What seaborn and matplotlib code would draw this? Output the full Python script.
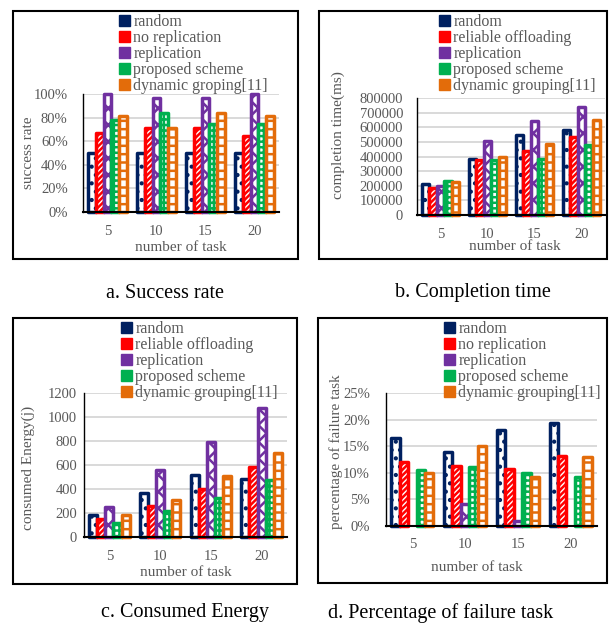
import numpy as np
import pandas as pd
import matplotlib
matplotlib.use("Agg")
import matplotlib.pyplot as plt
from matplotlib.patches import Patch, Rectangle
from matplotlib.ticker import FuncFormatter
import seaborn as sns

tasks = ["5", "10", "15", "20"]

# a. success rate (%)
labels_a = ["random", "no replication", "replication", "proposed scheme", "dynamic groping[11]"]
succ_random = [50, 50, 50, 50]
succ_norepl = [67, 71, 71, 64]
succ_repl = [100, 97, 97, 100]
succ_proposed = [78, 84, 75, 75]
succ_dynamic = [81, 71, 84, 81]

# b. completion time (ms)
labels_b = ["random", "reliable offloading", "replication", "proposed scheme", "dynamic grouping[11]"]
time_random = [215000, 385000, 545000, 580000]
time_reliable = [185000, 375000, 440000, 530000]
time_repl = [195000, 505000, 640000, 740000]
time_proposed = [230000, 375000, 380000, 480000]
time_dynamic = [225000, 400000, 485000, 650000]

# c. consumed energy (j)
labels_c = ["random", "reliable offloading", "replication", "proposed scheme", "dynamic grouping[11]"]
en_random = [180, 365, 515, 485]
en_reliable = [150, 260, 400, 580]
en_repl = [250, 555, 790, 1075]
en_proposed = [115, 220, 325, 478]
en_dynamic = [180, 310, 505, 700]

# d. failure task (%)
labels_d = ["random", "no replication", "replication", "proposed scheme", "dynamic grouping[11]"]
fail_random = [16.5, 14.0, 18.0, 19.3]
fail_norepl = [12.0, 11.3, 10.7, 13.2]
fail_repl = [0.0, 4.1, 1.0, 0.0]
fail_proposed = [10.6, 11.1, 10.0, 9.3]
fail_dynamic = [10.0, 15.0, 9.2, 13.0]

colors = ["#002060", "#FF0000", "#7030A0", "#00B050", "#E36C0A"]
hatches = ["..", "//////", "xx", "+++", "--"]
grey = "#595959"

sns.set_theme(style="white")
plt.rcParams["font.family"] = ["Liberation Serif", "DejaVu Serif"]
plt.rcParams["hatch.linewidth"] = 1.8

W, H = 613, 627
fig = plt.figure(figsize=(W / 100, H / 100), dpi=100)


def rect(x0, x1, ytop, ybot):
    return [x0 / W, 1 - ybot / H, (x1 - x0) / W, (ybot - ytop) / H]


def panel(box, series, labels, ymax, ystep, fmt, ylabel, ypad, ylab_xy, xlab_xy, leg_xy):
    ax = fig.add_axes(rect(*box))
    df = pd.DataFrame({
        "task": np.tile(tasks, len(series)),
        "method": np.repeat(labels, len(tasks)),
        "value": np.concatenate(series),
    })
    sns.barplot(data=df, x="task", y="value", hue="method", palette=colors,
                saturation=1, width=0.8, ax=ax, legend=False, errorbar=None)
    for cont, col, h in zip(ax.containers, colors, hatches):
        for p in cont:
            p.set_facecolor("white")
            p.set_edgecolor(col)
            p.set_hatch(h)
            p.set_linewidth(2.5)
            p.set_joinstyle("round")
            p.set_clip_on(False)
            if p.get_height() == 0:
                p.set_visible(False)
    ax.set_ylim(0, ymax)
    ax.set_xlim(-0.5, 3.5)
    ax.set_yticks(np.arange(0, ymax + ystep / 2, ystep))
    ax.yaxis.set_major_formatter(FuncFormatter(fmt))
    ax.grid(axis="y", color="#D9D9D9", linewidth=1.4)
    ax.set_axisbelow(True)
    for s in ["top", "right"]:
        ax.spines[s].set_visible(False)
    ax.spines["left"].set_color("black")
    ax.spines["left"].set_linewidth(1.0)
    ax.spines["bottom"].set_color("black")
    ax.spines["bottom"].set_linewidth(1.5)
    ax.tick_params(axis="y", length=0, pad=ypad, labelsize=10.5, labelcolor=grey)
    ax.tick_params(axis="x", length=0, pad=9, labelsize=10.5, labelcolor=grey)
    ax.set_xlabel("number of task", fontsize=11, color=grey)
    ax.set_ylabel(ylabel, fontsize=11, color=grey)
    ax.xaxis.set_label_coords(*xlab_xy)
    ax.yaxis.set_label_coords(*ylab_xy)
    ax.xaxis.label.set_verticalalignment("center")
    ax.yaxis.label.set_verticalalignment("center")
    handles = [Patch(facecolor=c, edgecolor=c) for c in colors]
    ax.legend(handles=handles, labels=labels, loc="upper left",
              bbox_to_anchor=(leg_xy[0] / W, 1 - leg_xy[1] / H),
              bbox_transform=fig.transFigure, frameon=False, fontsize=11.5,
              labelcolor=grey, borderpad=0, handlelength=0.7, handleheight=0.7,
              handletextpad=0.2, labelspacing=0.0)
    return ax


pct = lambda v, _: f"{v:.0f}%"
num = lambda v, _: f"{v:.0f}"

panel((83, 279, 94, 212),
      [succ_random, succ_norepl, succ_repl, succ_proposed, succ_dynamic],
      labels_a, 100, 20, pct, "success rate", 11,
      (-0.276, 0.5), (0.5, -0.305), (111, 6))
panel((417, 605, 98, 215),
      [time_random, time_reliable, time_repl, time_proposed, time_dynamic],
      labels_b, 800000, 100000, num, "completion time(ms)", 10,
      (-0.42, 0.68), (0.52, -0.27), (431, 6))
panel((84, 287, 393, 537),
      [en_random, en_reliable, en_repl, en_proposed, en_dynamic],
      labels_c, 1200, 200, num, "consumed Energy(j)", 5,
      (-0.276, 0.48), (0.5, -0.25), (113, 313))
panel((386, 597, 393, 526),
      [fail_random, fail_norepl, fail_repl, fail_proposed, fail_dynamic],
      labels_d, 25, 5, pct, "percentage of failure task", 11.5,
      (-0.237, 0.56), (0.43, -0.31), (436, 313))

# panel frames
for x0, x1, y0, y1 in [(13, 298, 11, 259), (319, 607, 11, 259),
                       (13, 297, 318, 584), (318, 607, 318, 583)]:
    fig.patches.append(Rectangle((x0 / W, 1 - y1 / H), (x1 - x0) / W, (y1 - y0) / H,
                                 transform=fig.transFigure, fill=False,
                                 edgecolor="black", linewidth=1.5))

captions = [("a. Success rate", 165, 293), ("b. Completion time", 473, 293),
            ("c. Consumed Energy", 185, 613), ("d. Percentage of failure task", 441, 613)]
for txt, cx, cy in captions:
    fig.text(cx / W, 1 - cy / H, txt, ha="center", va="center", fontsize=14.5, color="black")

fig.savefig("out.png", dpi=100)
